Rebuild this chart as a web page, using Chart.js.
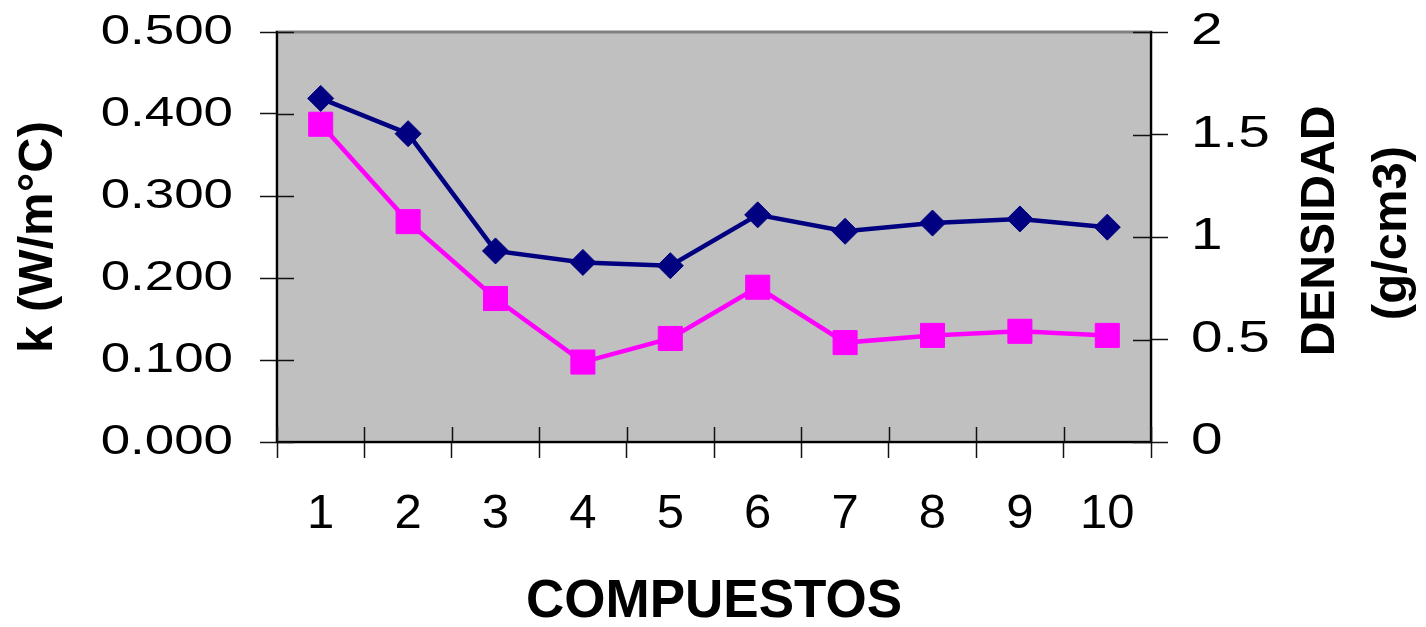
<!DOCTYPE html>
<html>
<head>
<meta charset="utf-8">
<script src="https://cdn.jsdelivr.net/npm/chart.js@4"></script>
<style>
  html, body { margin: 0; padding: 0; background: #ffffff; }
  #chart { display: block; }
</style>
</head>
<body>
<canvas id="chart" width="1426" height="627"></canvas>
<script>
// Compound numbers along the horizontal axis
const categories = ['1', '2', '3', '4', '5', '6', '7', '8', '9', '10'];

// Thermal conductivity k (W/m°C), left axis
const kValues = [0.419, 0.376, 0.233, 0.219, 0.215, 0.277, 0.257, 0.267, 0.272, 0.262];

// Density (g/cm3), right axis
const densityValues = [1.55, 1.075, 0.70, 0.39, 0.505, 0.755, 0.485, 0.52, 0.54, 0.52];

// Axis tick labels
const kTickLabels = ['0.000', '0.100', '0.200', '0.300', '0.400', '0.500'];
const densityTickLabels = ['0', '0.5', '1', '1.5', '2'];

const FONT = "'Liberation Sans', Arial, sans-serif";

// Grey plot area with a darker frame
const plotBackground = {
  id: 'plotBackground',
  beforeDraw(chart) {
    const { ctx, chartArea: a } = chart;
    ctx.save();
    ctx.fillStyle = '#c0c0c0';
    ctx.fillRect(a.left, a.top, a.right - a.left, a.bottom - a.top);
    ctx.strokeStyle = '#808080';
    ctx.lineWidth = 3;
    ctx.strokeRect(a.left, a.top, a.right - a.left, a.bottom - a.top);
    ctx.restore();
  }
};

// Tick marks cross the axis lines: draw the inner half of each mark
const innerTicks = {
  id: 'innerTicks',
  beforeDatasetsDraw(chart) {
    const { ctx, chartArea: a, scales } = chart;
    ctx.save();
    ctx.strokeStyle = '#111111';
    ctx.lineWidth = 1.5;
    ctx.beginPath();
    scales.y.ticks.forEach((t, i) => {
      const py = Math.round(scales.y.getPixelForTick(i)) + 0.5;
      ctx.moveTo(a.left, py); ctx.lineTo(a.left + 17, py);
    });
    scales.y1.ticks.forEach((t, i) => {
      const py = Math.round(scales.y1.getPixelForTick(i)) + 0.5;
      ctx.moveTo(a.right - 18, py); ctx.lineTo(a.right, py);
    });
    for (let i = 0; i <= categories.length; i++) {
      const px = Math.round(scales.x.getPixelForValue(i - 0.5)) + 0.5;
      ctx.moveTo(px, a.bottom - 15); ctx.lineTo(px, a.bottom);
    }
    ctx.stroke();
    ctx.restore();
  }
};

// The value-axis numbers are set in a horizontally widened face.
// Their layer is drawn after the datasets (ticks.z = 1), so text drawn
// between these two hooks is widened around its anchor point.
const wideValueLabels = {
  id: 'wideValueLabels',
  afterDatasetsDraw(chart) {
    const ctx = chart.ctx;
    if (ctx._plainFillText) return;
    const plain = ctx.fillText;
    ctx._plainFillText = plain;
    ctx.fillText = function (text, x, y, maxWidth) {
      const sx = this.textAlign === 'right' ? 1.23 : 1.26;
      this.save();
      this.translate(x, y);
      this.scale(sx, 1);
      plain.call(this, text, 0, 0);
      this.restore();
    };
  },
  afterDraw(chart) {
    const ctx = chart.ctx;
    if (ctx._plainFillText) {
      ctx.fillText = ctx._plainFillText;
      delete ctx._plainFillText;
    }
  }
};

// Right-hand axis title, two lines reading bottom to top
const rightTitle = {
  id: 'rightTitle',
  afterDraw(chart) {
    const { ctx } = chart;
    const cy = 231;
    ctx.save();
    ctx.fillStyle = '#000000';
    ctx.font = "bold 48px " + FONT;
    ctx.textAlign = 'center';
    ctx.textBaseline = 'middle';
    ctx.translate(1321, cy);
    ctx.rotate(-Math.PI / 2);
    ctx.fillText('DENSIDAD', 0, 0);
    ctx.restore();
    ctx.save();
    ctx.fillStyle = '#000000';
    ctx.font = "bold 49px " + FONT;
    ctx.textAlign = 'center';
    ctx.textBaseline = 'middle';
    ctx.translate(1392, cy + 2);
    ctx.rotate(-Math.PI / 2);
    ctx.fillText('(g/cm3)', 0, 0);
    ctx.restore();
  }
};

function noLabelOverflow(scale) {
  scale.paddingTop = 0;
  scale.paddingBottom = 0;
}

new Chart(document.getElementById('chart'), {
  type: 'line',
  data: {
    labels: categories,
    datasets: [
      {
        label: 'k (W/m°C)',
        data: kValues,
        yAxisID: 'y',
        borderColor: '#000080',
        backgroundColor: '#000080',
        borderWidth: 4.5,
        tension: 0,
        pointStyle: 'rectRot',
        pointRadius: 13,
        pointBorderWidth: 1,
        pointBorderColor: '#000080',
        pointBackgroundColor: '#000080'
      },
      {
        label: 'DENSIDAD (g/cm3)',
        data: densityValues,
        yAxisID: 'y1',
        borderColor: '#ff00ff',
        backgroundColor: '#ff00ff',
        borderWidth: 4.5,
        tension: 0,
        pointStyle: 'rect',
        pointRadius: 17,
        pointBorderWidth: 1,
        pointBorderColor: '#ff00ff',
        pointBackgroundColor: '#ff00ff'
      }
    ]
  },
  options: {
    responsive: false,
    animation: false,
    devicePixelRatio: 1,
    clip: false,
    layout: { padding: { top: 32, left: 0, right: 0, bottom: 0 } },
    plugins: {
      legend: { display: false },
      tooltip: { enabled: false }
    },
    scales: {
      x: {
        type: 'category',
        offset: true,
        grid: {
          offset: true,
          drawOnChartArea: false,
          drawTicks: true,
          tickLength: 16,
          tickColor: '#111111',
          tickWidth: 1.5
        },
        border: { display: true, color: '#000000', width: 2 },
        ticks: {
          color: '#000000',
          font: { family: FONT, size: 49 },
          padding: 27,
          maxRotation: 0,
          autoSkip: false
        },
        title: {
          display: true,
          text: 'COMPUESTOS',
          color: '#000000',
          font: { family: FONT, size: 53, weight: 'bold', lineHeight: 0.9 },
          padding: { top: 0, bottom: 1 }
        },
        afterFit(scale) {
          scale.height = 185;
          scale.paddingLeft = 0;
          scale.paddingRight = 0;
        }
      },
      y: {
        position: 'left',
        min: 0,
        max: 0.5,
        grid: {
          drawOnChartArea: false,
          drawTicks: true,
          tickLength: 17,
          tickColor: '#111111',
          tickWidth: 1.5
        },
        border: { display: true, color: '#000000', width: 2 },
        ticks: {
          z: 1,
          stepSize: 0.1,
          color: '#000000',
          font: { family: FONT, size: 43 },
          padding: 27,
          callback: (value, index) => kTickLabels[index]
        },
        title: {
          display: true,
          text: 'k (W/m°C)',
          color: '#000000',
          font: { family: FONT, size: 49, weight: 'bold', lineHeight: 1.2 },
          padding: { top: 9, bottom: 0 }
        },
        afterFit(scale) {
          scale.width = 277;
          noLabelOverflow(scale);
        }
      },
      y1: {
        position: 'right',
        min: 0,
        max: 2,
        grid: {
          drawOnChartArea: false,
          drawTicks: true,
          tickLength: 17,
          tickColor: '#111111',
          tickWidth: 1.5
        },
        border: { display: true, color: '#000000', width: 2 },
        ticks: {
          z: 1,
          stepSize: 0.5,
          color: '#000000',
          font: { family: FONT, size: 45 },
          padding: 23,
          callback: (value, index) => densityTickLabels[index]
        },
        title: { display: false },
        afterFit(scale) {
          scale.width = 275;
          noLabelOverflow(scale);
        }
      }
    }
  },
  plugins: [plotBackground, innerTicks, wideValueLabels, rightTitle]
});
</script>
</body>
</html>
